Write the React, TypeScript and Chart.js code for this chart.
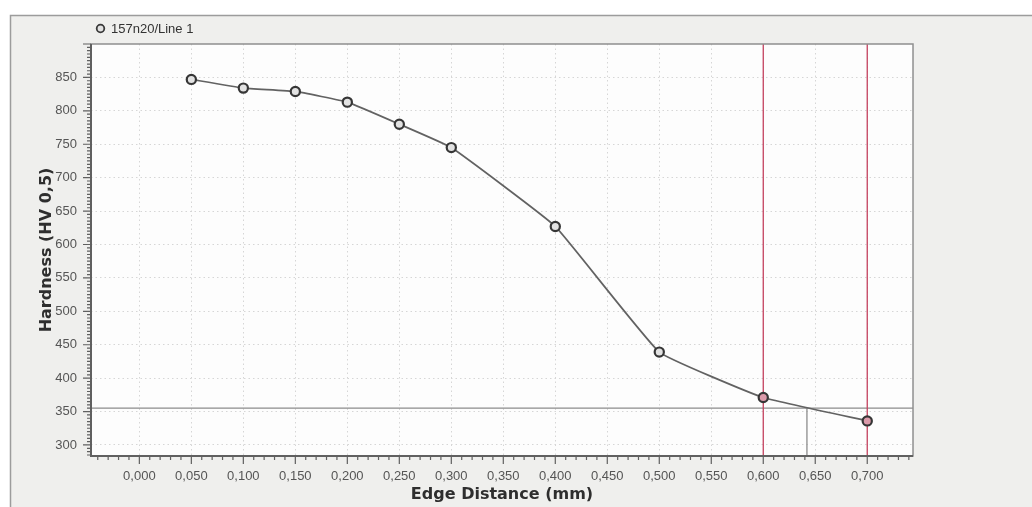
import React, { useEffect, useRef } from 'react';
import { Chart, registerables } from 'chart.js';

Chart.register(...registerables);

// ---- data ----
const seriesLabel = '157n20/Line 1';
const edgeDistance = [0.05, 0.1, 0.15, 0.2, 0.25, 0.3, 0.4, 0.5, 0.6, 0.7];
const hardness = [847, 834, 829, 813, 780, 745, 627, 439, 371, 336];
const xTickValues = [0, 0.05, 0.1, 0.15, 0.2, 0.25, 0.3, 0.35, 0.4, 0.45, 0.5, 0.55, 0.6, 0.65, 0.7];
const yTickValues = [300, 350, 400, 450, 500, 550, 600, 650, 700, 750, 800, 850];
const markerX = [0.6, 0.7];
const thresholdHV = 355;
const thresholdX = 0.642;
const xTitle = 'Edge Distance (mm)';
const yTitle = 'Hardness (HV 0,5)';

const X_MIN = -0.0465;
const X_MAX = 0.744;
const Y_MIN = 283.5;
const Y_MAX = 900;

const decorPlugin = {
  id: 'decor',
  beforeDraw(chart: any) {
    const { ctx, width, height, chartArea: a } = chart;
    ctx.save();
    ctx.fillStyle = '#ffffff';
    ctx.fillRect(0, 0, width, height);
    ctx.fillStyle = '#efefed';
    ctx.fillRect(10, 15, width, height);
    ctx.strokeStyle = '#9c9c9c';
    ctx.lineWidth = 1.5;
    ctx.beginPath();
    ctx.moveTo(10.5, height);
    ctx.lineTo(10.5, 15.5);
    ctx.lineTo(width, 15.5);
    ctx.stroke();
    ctx.fillStyle = '#fdfdfd';
    ctx.fillRect(a.left, a.top, a.right - a.left, a.bottom - a.top);
    // legend
    ctx.beginPath();
    ctx.arc(100.5, 28.5, 3.8, 0, Math.PI * 2);
    ctx.fillStyle = '#e2e2e2';
    ctx.fill();
    ctx.lineWidth = 1.8;
    ctx.strokeStyle = '#3a3a3a';
    ctx.stroke();
    ctx.fillStyle = '#333333';
    ctx.font = '13px "Liberation Sans", Arial, sans-serif';
    ctx.textBaseline = 'middle';
    ctx.textAlign = 'left';
    ctx.fillText(seriesLabel, 111, 29);
    ctx.restore();
  },
  beforeDatasetsDraw(chart: any) {
    const { ctx, chartArea: a, scales } = chart;
    const xs = scales.x;
    const ys = scales.y;
    ctx.save();
    // threshold line
    const ty = ys.getPixelForValue(thresholdHV);
    const tx = xs.getPixelForValue(thresholdX);
    ctx.strokeStyle = '#8c8c8c';
    ctx.lineWidth = 1.3;
    ctx.beginPath();
    ctx.moveTo(a.left, ty);
    ctx.lineTo(a.right, ty);
    ctx.moveTo(tx, ty);
    ctx.lineTo(tx, a.bottom);
    ctx.stroke();
    // red marker lines
    ctx.strokeStyle = '#c4415e';
    ctx.lineWidth = 1.3;
    markerX.forEach((v) => {
      const px = xs.getPixelForValue(v);
      ctx.beginPath();
      ctx.moveTo(px, a.top);
      ctx.lineTo(px, a.bottom);
      ctx.stroke();
    });
    // plot border
    ctx.strokeStyle = '#8f8f8f';
    ctx.lineWidth = 1.5;
    ctx.strokeRect(a.left, a.top, a.right - a.left, a.bottom - a.top);
    ctx.strokeStyle = '#606060';
    ctx.lineWidth = 2;
    ctx.beginPath();
    ctx.moveTo(a.left, a.top);
    ctx.lineTo(a.left, a.bottom);
    ctx.lineTo(a.right, a.bottom);
    ctx.stroke();
    // tick marks
    ctx.strokeStyle = '#606060';
    ctx.lineWidth = 1.2;
    ctx.beginPath();
    for (let i = Math.ceil(X_MIN * 100); i <= Math.floor(X_MAX * 100); i++) {
      const px = xs.getPixelForValue(i / 100);
      const len = i % 5 === 0 ? 8 : 4;
      ctx.moveTo(px, a.bottom);
      ctx.lineTo(px, a.bottom + len);
    }
    for (let v = Math.ceil(Y_MIN / 5) * 5; v <= Y_MAX; v += 5) {
      const py = ys.getPixelForValue(v);
      const len = v % 50 === 0 ? 8 : 4;
      ctx.moveTo(a.left, py);
      ctx.lineTo(a.left - len, py);
    }
    ctx.stroke();
    ctx.restore();
  },
};

export default function App() {
  const canvasRef = useRef<HTMLCanvasElement | null>(null);

  useEffect(() => {
    if (!canvasRef.current) return;
    const chart = new Chart(canvasRef.current, {
      type: 'line',
      data: {
        datasets: [
          {
            label: seriesLabel,
            data: edgeDistance.map((x, i) => ({ x, y: hardness[i] })),
            borderColor: '#626262',
            borderWidth: 1.7,
            tension: 0.1,
            pointRadius: 4.6,
            pointBorderWidth: 2.2,
            pointBorderColor: '#363636',
            pointBackgroundColor: (c: any) =>
              c.raw && markerX.includes(c.raw.x) ? '#dc9aaa' : '#e2e2e2',
          },
        ],
      },
      options: {
        animation: false,
        responsive: true,
        maintainAspectRatio: false,
        layout: { padding: { left: 0, top: 44, right: 119, bottom: 0 } },
        plugins: { legend: { display: false }, tooltip: { enabled: false } },
        scales: {
          x: {
            type: 'linear',
            min: X_MIN,
            max: X_MAX,
            afterBuildTicks: (s: any) => {
              s.ticks = xTickValues.map((v) => ({ value: v }));
            },
            afterFit: (s: any) => {
              s.height = 51;
            },
            ticks: {
              autoSkip: false,
              maxRotation: 0,
              padding: 13,
              color: '#555555',
              font: { family: '"Liberation Sans", Arial, sans-serif', size: 13 },
              callback: (v: any) => Number(v).toFixed(3).replace('.', ','),
            },
            grid: { color: '#d6d6d6', lineWidth: 1, drawTicks: false },
            border: { display: false, dash: [1.5, 3] },
            title: {
              display: true,
              text: xTitle,
              color: '#2e2e2e',
              font: { family: '"DejaVu Sans", sans-serif', size: 16, weight: 'bold' },
              padding: { top: 0, bottom: 2.4 },
            },
          },
          y: {
            type: 'linear',
            min: Y_MIN,
            max: Y_MAX,
            afterBuildTicks: (s: any) => {
              s.ticks = yTickValues.map((v) => ({ value: v }));
            },
            afterFit: (s: any) => {
              s.width = 91;
            },
            ticks: {
              padding: 14,
              color: '#555555',
              font: { family: '"Liberation Sans", Arial, sans-serif', size: 13 },
              callback: (v: any) => String(v),
            },
            grid: { color: '#d6d6d6', lineWidth: 1, drawTicks: false },
            border: { display: false, dash: [1.5, 3] },
            title: {
              display: true,
              text: yTitle,
              color: '#2e2e2e',
              font: { family: '"DejaVu Sans", sans-serif', size: 16, weight: 'bold' },
              padding: { top: 37.5, bottom: 0 },
            },
          },
        },
      },
      plugins: [decorPlugin],
    } as any);
    return () => chart.destroy();
  }, []);

  return (
    <div style={{ position: 'fixed', left: 0, top: 0, width: 1032, height: 507 }}>
      <canvas ref={canvasRef} />
    </div>
  );
}
